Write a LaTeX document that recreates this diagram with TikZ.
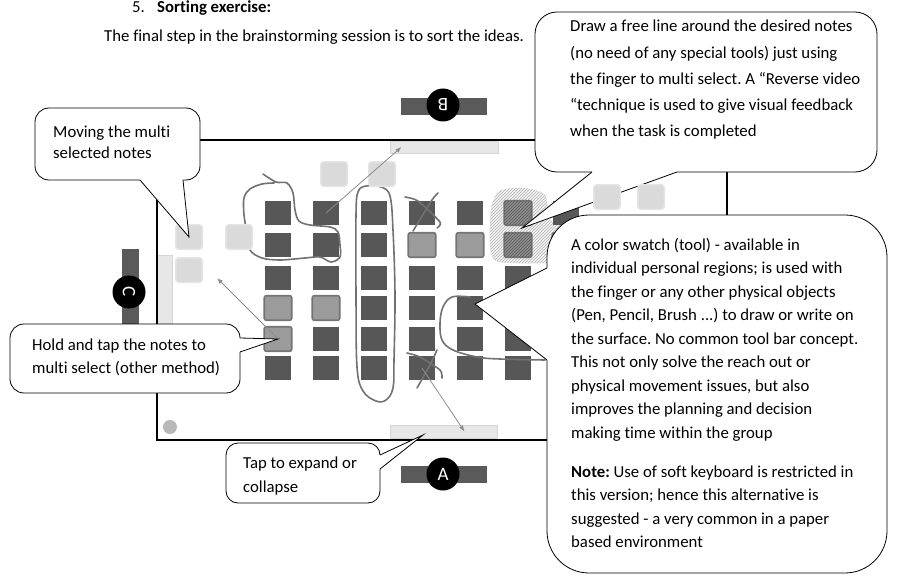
\documentclass[tikz,border=0pt]{standalone}
\usepackage{fontspec}
\setmainfont{Carlito}[Ligatures=NoCommon]
\usetikzlibrary{arrows.meta,calc,patterns}
\definecolor{Ink}{HTML}{575757}
\definecolor{Pick}{HTML}{9B9B9B}
\definecolor{PickEdge}{HTML}{747474}
\definecolor{Hatch}{HTML}{8E8E8E}
\definecolor{HatchInk}{HTML}{5A5A5A}
\definecolor{Ghost}{HTML}{DADADA}
\definecolor{GhostEdge}{HTML}{E4E4E4}
\definecolor{Tray}{HTML}{E7E7E7}
\definecolor{TrayEdge}{HTML}{D5D5D5}
\definecolor{Seat}{HTML}{5A5A5A}
\definecolor{Scrawl}{HTML}{717171}
\definecolor{Trail}{HTML}{8C8C8C}
\definecolor{Glow}{HTML}{F3F3F3}
\definecolor{GlowEdge}{HTML}{E2E2E2}
\definecolor{GlowInk}{HTML}{B3B3B3}
\definecolor{Knob}{HTML}{B8B8B8}
\frenchspacing

\begin{document}
\begin{tikzpicture}[x=1pt,y=-1pt,
  txt/.style={inner sep=0,font=\fontsize{16.75}{23.5}\selectfont},
  say/.style={txt,align=left,anchor=north west},
  bubble/.style={draw=black,fill=white,line width=0.8pt,inner sep=0},
  tail/.style={draw=black,line width=0.8pt,line join=miter},
  note/.style={fill=Ink,minimum width=26.5pt,minimum height=23.5pt,inner sep=0},
  picked/.style={fill=Pick,draw=PickEdge,line width=1.6pt,rounded corners=2pt,minimum width=27.5pt,minimum height=24.5pt,inner sep=0},
  hatched/.style={picked,fill=Hatch,postaction={pattern=north east lines,pattern color=HatchInk}},
  moved/.style={fill=Ghost,draw=GhostEdge,line width=1.5pt,rounded corners=3pt,minimum width=26.5pt,minimum height=24.5pt,inner sep=0},
  tray/.style={fill=Tray,draw=TrayEdge,line width=1pt,inner sep=0},
  bench/.style={fill=Seat,inner sep=0},
  chair/.style={circle,fill=black,text=white,minimum size=33pt,inner sep=0,font=\fontsize{19}{19}\selectfont},
  scribble/.style={draw=Scrawl,line width=1.6pt,line cap=round,line join=round},
  move/.style={draw=Trail,line width=0.8pt,-{Latex[length=6pt,width=4.5pt]}}
]
\useasboundingbox (0,0) rectangle (898,578);

% heading
\node[txt,anchor=base west] (headNum) at (132,13) {5.};
\node[txt,anchor=base west,font=\fontsize{16.75}{23.5}\selectfont\bfseries] (heading) at (157,13) {Sorting exercise:};
\node[txt,anchor=base west] (intro) at (104,42) {The final step in the brainstorming session is to sort the ideas.};

% table, trays and seats
\node[tray,minimum width=108pt,minimum height=12pt] (topTray) at (444,147) {};
\node[tray,minimum width=107pt,minimum height=13pt] (bottomTray) at (443.5,431.5) {};
\node[tray,minimum width=15pt,minimum height=107pt] (sideTray) at (164.5,308.5) {};
\node[draw,line width=1.6pt,minimum width=570pt,minimum height=300pt,inner sep=0] (table) at (442,290) {};
\node[circle,fill=Knob,minimum size=14pt,inner sep=0] (knob) at (170,427) {};
\node[bench,minimum width=86pt,minimum height=17pt] (benchB) at (444,106.5) {};
\node[chair,rotate=180] (seatB) at (443,105) {B};
\node[bench,minimum width=86pt,minimum height=17pt] (benchA) at (444,474.5) {};
\node[chair] (seatA) at (443,474) {A};
\node[bench,minimum width=17pt,minimum height=86pt] (benchC) at (130,292) {};
\node[chair,rotate=-90] (seatC) at (129,292) {C};

% reverse video area
\draw[fill=Glow,draw=GlowEdge,postaction={pattern=north east lines,pattern color=GlowInk}]
  plot[smooth cycle,tension=0.5] coordinates {(492,205) (500,191) (522,188) (544,194) (548,210) (552,222) (575,226) (590,240) (588,262) (548,263) (500,262) (491,252) (490,228)};

% notes on the table
\foreach \c in {1,...,7}
  \foreach \r/\y in {1/213,2/245,3/278,4/308,5/339,6/368}
    \node[note] (n-\c-\r) at (\c*48+230,\y) {};
\foreach \c/\r in {1/4,1/5,2/4,4/2,5/2}
  \node[picked] (p-\c-\r) at (n-\c-\r) {};
\foreach \c/\r in {6/1,6/2,7/2}
  \node[hatched] (h-\c-\r) at (n-\c-\r) {};

% finger strokes
\draw[scribble] plot[smooth,tension=0.55] coordinates {(263,174) (276,182) (287,183) (293,193) (295,210) (299,221) (310,225) (330,227) (338,232) (340,245) (340,257) (331,262) (320,257) (305,258) (280,260) (262,258) (250,250) (247,233) (244,215) (244,198) (250,189) (262,184) (274,183)};
\draw[scribble] plot[smooth cycle,tension=0.6] coordinates {(358,192) (366,186) (381,187) (390,196) (393,230) (395,295) (394,360) (393,388) (386,400) (376,401) (363,391) (357,367) (356,295) (356,215)};
\draw[scribble] plot[smooth,tension=0.6] coordinates {(470,297) (452,297) (443,307) (440,323) (442,340) (453,350) (477,357) (500,359) (545,360)};
\draw[scribble] plot[smooth,tension=0.4] coordinates {(405,197) (418,201) (440,222) (437,228)};
\draw[scribble] plot[smooth,tension=0.4] coordinates {(438,193) (432,200) (413,231)};
\draw[scribble] plot[smooth,tension=0.4] coordinates {(407,353) (420,357) (440,370) (442,378)};
\draw[scribble] plot[smooth,tension=0.4] coordinates {(437,350) (430,365) (417,388)};

% moved notes
\node[moved] (mv1) at (189,237) {};
\node[moved] (mv2) at (239,237) {};
\node[moved] (mv3) at (189,270) {};
\node[moved] (mv4) at (334,174) {};
\node[moved] (mv5) at (382,174) {};

% drag arrows
\coordinate (dropL) at (217,278);
\draw[move] (n-2-1.center) -- ($(topTray.west)+(12,0)$);
\draw[move] (p-1-5.center) -- (dropL);
\draw[move] (n-4-6.center) -- ($(bottomTray.center)+(21,0)$);

% callouts
\coordinate (trayTap) at (423,435);
\coordinate (lassoHit) at (522,228);
\coordinate (swatchHit) at (475,304);

\node[bubble,rounded corners=14pt,minimum width=165pt,minimum height=72pt] (moveBubble) at (117.5,144) {};
\fill[white] (140,176) -- (140,180) -- (mv1.center) -- (183,180) -- (183,176) -- cycle;
\draw[tail] (140,180) -- (mv1.center) -- (183,180);
\node[say,font=\fontsize{16.75}{21.5}\selectfont] (moveText) at (53,122) {\strut Moving the multi\\selected notes};

\node[bubble,rounded corners=14pt,minimum width=230pt,minimum height=69pt] (holdBubble) at (125,358.5) {};
\fill[white] (236,338) -- (240,338) -- (p-1-5.center) -- (240,352) -- (236,352) -- cycle;
\draw[tail] (240,338) -- (p-1-5.center) -- (240,352);
\node[say,font=\fontsize{16.75}{23}\selectfont] (holdText) at (32,334) {\strut Hold and tap the notes to\\multi select (other method)};

\node[bubble,rounded corners=12pt,minimum width=154pt,minimum height=60pt] (tapBubble) at (303,473) {};
\fill[white] (376,455) -- (380,455) -- (trayTap) -- (380,469) -- (376,469) -- cycle;
\draw[tail] (380,455) -- (trayTap) -- (380,469);
\node[say,font=\fontsize{16.75}{24}\selectfont] (tapText) at (243,451) {\strut Tap to expand or\\collapse};

\node[bubble,rounded corners=22pt,minimum width=342pt,minimum height=160pt] (lassoBubble) at (706,92) {};
\fill[white] (592,168) -- (592,172) -- (lassoHit) -- (677,172) -- (677,168) -- cycle;
\draw[tail] (592,172) -- (lassoHit) -- (677,172);
\node[say,font=\fontsize{16.75}{26.25}\selectfont] (lassoText) at (570,13.3) {\strut Draw a free line around the desired notes\\(no need of any special tools) just using\\the finger to multi select. A “Reverse video\\“technique is used to give visual feedback\\when the task is completed};

\node[moved] (mv6) at (607,197) {};
\node[moved] (mv7) at (651,197) {};

\node[bubble,rounded corners=42pt,minimum width=340pt,minimum height=358pt] (swatchBubble) at (717,394) {};
\fill[white] (551,268) -- (547,268) -- (swatchHit) -- (547,360) -- (551,360) -- cycle;
\draw[tail] (547,268) -- (swatchHit) -- (547,360);
\node[say] (swatchText) at (571,233.5) {\strut A color swatch (tool) - available in\\individual personal regions; is used with\\the finger or any other physical objects\\(Pen, Pencil, Brush ...) to draw or write on\\the surface. No common tool bar concept.\\This not only solve the reach out or\\physical movement issues, but also\\improves the planning and decision\\making time within the group\\[15.5pt]\textbf{Note:} Use of soft keyboard is restricted in\\this version; hence this alternative is\\suggested - a very common in a paper\\based environment};
\end{tikzpicture}
\end{document}
